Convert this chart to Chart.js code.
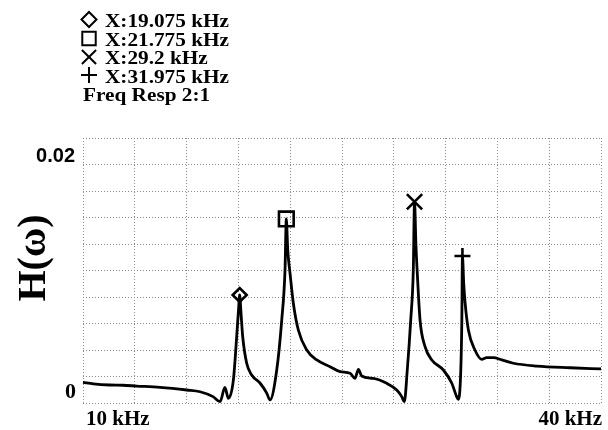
<!DOCTYPE html>
<html>
<head>
<meta charset="utf-8">
<script src="https://cdn.jsdelivr.net/npm/chart.js@4"></script>
<style>
html,body{margin:0;padding:0;background:#fff;}
#wrap{width:608px;height:430px;}
</style>
</head>
<body>
<div id="wrap"><canvas id="c" width="608" height="430"></canvas></div>
<script>
// Frequency axis (kHz) and response magnitude
const freqKHz = [10.0, 10.6, 11.56, 12.3, 13.11, 14.46, 16.01, 16.78, 17.53, 17.94, 18.22, 18.42, 18.71, 18.90, 19.0, 19.075,
  19.15, 19.25, 19.48, 19.77, 20.25, 20.64, 20.83, 21.22, 21.51, 21.70, 21.775, 21.86, 21.99, 22.18, 22.47, 22.96, 23.54,
  24.31, 24.89, 25.47, 25.75, 25.95, 26.14, 26.81, 27.59, 28.17, 28.46, 28.61, 28.78, 28.98, 29.13, 29.2,
  29.28, 29.36, 29.52, 29.81, 30.20, 30.87, 31.36, 31.64, 31.74, 31.88, 31.94, 31.975, 32.05, 32.13, 32.32, 32.70, 33.09,
  33.38, 33.77, 34.25, 34.92, 36.28, 38.21, 40.0];
const magnitude = [0.00156, 0.00145, 0.00136, 0.00134, 0.00128, 0.00118, 0.00098, 0.00085, 0.00048, 0.00010, 0.00118, 0.00035,
  0.00174, 0.00500, 0.00690, 0.00815, 0.00680, 0.00500, 0.00300, 0.00211, 0.00151, 0.00075, 0.00023, 0.00249, 0.00626, 0.01004,
  0.01389, 0.01150, 0.00980, 0.00755, 0.00551, 0.00400, 0.00325, 0.00274, 0.00236, 0.00224, 0.00186, 0.00254, 0.00204,
  0.00186, 0.00149, 0.00098, 0.00048, 0.00010, 0.00249, 0.00626, 0.01004, 0.01519,
  0.01200, 0.00980, 0.00626, 0.00425, 0.00325, 0.00249, 0.00149, 0.00048, 0.00028, 0.00249, 0.00626, 0.01109, 0.00900,
  0.00755, 0.00551, 0.00400, 0.00330, 0.00342, 0.00342, 0.00325, 0.00300, 0.00279, 0.00266, 0.00257];

// Marker cursors
const markerFreq = [19.075, 21.775, 29.2, 31.975];
const markerMag = [0.00815, 0.01389, 0.01519, 0.01109];
const markerStyle = ['rectRot', 'rect', 'crossRot', 'cross'];
const markerLabels = ['X:19.075 kHz', 'X:21.775 kHz', 'X:29.2 kHz', 'X:31.975 kHz'];
const traceTitle = 'Freq Resp 2:1';

// Axis tick labels
const xTickLabels = ['10 kHz', '40 kHz'];
const yTickLabels = ['0.02', '0'];
const yAxisTitle = 'H(\u03C9)';

const curve = freqKHz.map((f, i) => ({x: f, y: magnitude[i]}));
const marks = markerFreq.map((f, i) => ({x: f, y: markerMag[i]}));
const markerRadius = [7, 10.4, 10.8, 8];

function drawStretched(ctx, text, x, y, font, sx, align) {
  ctx.save();
  ctx.font = font;
  const w = ctx.measureText(text).width * sx;
  let x0 = x;
  if (align === 'right') x0 = x - w;
  else if (align === 'center') x0 = x - w / 2;
  ctx.translate(x0, y);
  ctx.scale(sx, 1);
  ctx.textAlign = 'left';
  ctx.textBaseline = 'alphabetic';
  ctx.fillText(text, 0, 0);
  ctx.restore();
}

const textPlugin = {
  id: 'texts',
  afterDraw(chart) {
    const ctx = chart.ctx;
    ctx.save();
    ctx.strokeStyle = '#000';
    // legend block
    const legendFont = 'bold 19.5px "Liberation Serif", "Times New Roman", serif';
    const baselines = [27, 45.5, 64, 82.5];
    const symY = [19.5, 38.5, 57, 75];
    const symR = [7.5, 9.5, 10, 8];
    for (let i = 0; i < markerLabels.length; i++) {
      ctx.save();
      ctx.fillStyle = 'rgba(0,0,0,0)';
      ctx.lineWidth = 2;
      ctx.strokeStyle = '#000';
      Chart.helpers.drawPoint(ctx, {pointStyle: markerStyle[i], radius: symR[i], rotation: 0, borderWidth: 2}, 89, symY[i]);
      ctx.restore();
      ctx.fillStyle = '#000';
      drawStretched(ctx, markerLabels[i], 105, baselines[i], legendFont, 1.09, 'left');
    }
    ctx.fillStyle = '#000';
    drawStretched(ctx, traceTitle, 83, 101, legendFont, 1.09, 'left');
    // axis labels
    const axFont = 'bold 21px "Liberation Serif", "Times New Roman", serif';
    drawStretched(ctx, xTickLabels[0], 86, 425, axFont, 1.0, 'left');
    drawStretched(ctx, xTickLabels[1], 602, 425, axFont, 1.0, 'right');
    drawStretched(ctx, yTickLabels[0], 75, 161.5, 'bold 20px "Liberation Sans", Arial, sans-serif', 1.0, 'right');
    drawStretched(ctx, yTickLabels[1], 76, 398, 'bold 22px "Liberation Serif", "Times New Roman", serif', 1.0, 'right');
    // y axis title
    ctx.save();
    ctx.translate(45, 258);
    ctx.rotate(-Math.PI / 2);
    ctx.font = 'bold 40px "Liberation Serif", "Times New Roman", serif';
    ctx.textAlign = 'center';
    ctx.textBaseline = 'alphabetic';
    ctx.fillText(yAxisTitle, 0, 0);
    ctx.restore();
    ctx.restore();
  }
};

new Chart(document.getElementById('c'), {
  type: 'line',
  data: {
    datasets: [
      {
        data: curve,
        borderColor: '#000',
        borderWidth: 2.8,
        pointRadius: 0,
        cubicInterpolationMode: 'monotone',
        fill: false,
        clip: false,
        order: 2
      },
      {
        data: marks,
        showLine: false,
        pointStyle: markerStyle,
        pointRadius: markerRadius,
        pointBorderWidth: 2.6,
        pointBorderColor: '#000',
        pointBackgroundColor: 'rgba(0,0,0,0)',
        clip: false,
        order: 1
      }
    ]
  },
  options: {
    responsive: false,
    animation: false,
    events: [],
    layout: {autoPadding: false, padding: {left: 83, top: 138, right: 7, bottom: 27}},
    plugins: {legend: {display: false}, tooltip: {enabled: false}},
    scales: {
      x: {
        type: 'linear', min: 10, max: 40,
        ticks: {display: false, stepSize: 3},
        grid: {color: '#8a8a8a', lineWidth: 1, drawTicks: false},
        border: {display: false, dash: [1, 2]}
      },
      y: {
        type: 'linear', min: 0, max: 0.02,
        ticks: {display: false, stepSize: 0.002},
        grid: {color: '#8a8a8a', lineWidth: 1, drawTicks: false},
        border: {display: false, dash: [1, 2]}
      }
    }
  },
  plugins: [textPlugin]
});
</script>
</body>
</html>
